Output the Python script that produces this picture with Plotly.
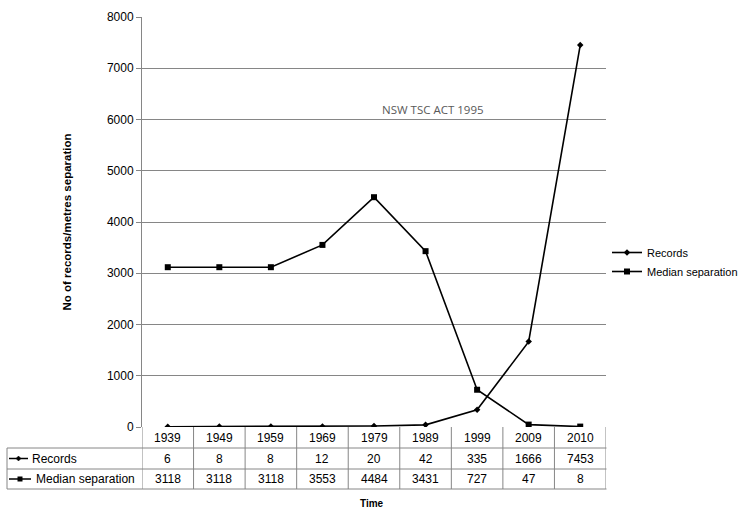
import plotly.graph_objects as go

years = ["1939", "1949", "1959", "1969", "1979", "1989", "1999", "2009", "2010"]
records = [6, 8, 8, 12, 20, 42, 335, 1666, 7453]
median_sep = [3118, 3118, 3118, 3553, 4484, 3431, 727, 47, 8]
y_ticks = [0, 1000, 2000, 3000, 4000, 5000, 6000, 7000, 8000]

W, H = 742, 509
L, R, T, B = 142, 136, 17, 82
PW, PH = W - L - R, H - T - B

def px(x):
    return (x - L) / PW

def py(y):
    return (H - B - y) / PH

GRID = "#868686"
ARIAL = "Liberation Sans, Arial, sans-serif"

fig = go.Figure()
fig.add_trace(go.Scatter(
    x=years, y=records, name="Records", mode="lines+markers",
    line=dict(color="black", width=1.6),
    marker=dict(symbol="diamond", size=5, color="black"),
))
fig.add_trace(go.Scatter(
    x=years, y=median_sep, name="Median separation", mode="lines+markers",
    line=dict(color="black", width=1.6),
    marker=dict(symbol="square", size=6, color="black"),
))

shapes = []
for yy in (448, 469, 489):
    shapes.append(dict(type="line", xref="paper", yref="paper",
                       x0=px(7), x1=px(606.5), y0=py(yy), y1=py(yy),
                       line=dict(color=GRID, width=1)))
for i in range(len(years) + 1):
    shapes.append(dict(type="line", xref="x", yref="paper",
                       x0=i - 0.5, x1=i - 0.5, y0=0, y1=py(489),
                       line=dict(color=GRID, width=1)))
shapes.append(dict(type="line", xref="paper", yref="paper",
                   x0=px(7), x1=px(7), y0=py(448), y1=py(489),
                   line=dict(color=GRID, width=1)))
shapes.append(dict(type="line", xref="paper", yref="paper",
                   x0=px(9), x1=px(28), y0=py(458.5), y1=py(458.5),
                   line=dict(color="black", width=1.5)))
shapes.append(dict(type="path", xref="paper", yref="paper",
                   path="M {a},{b} L {c},{d} L {a},{e} L {f},{d} Z".format(
                       a=px(18.5), b=py(456), c=px(21), d=py(458.5), e=py(461), f=px(16)),
                   fillcolor="black", line=dict(color="black", width=0.5)))
shapes.append(dict(type="line", xref="paper", yref="paper",
                   x0=px(9), x1=px(31), y0=py(479), y1=py(479),
                   line=dict(color="black", width=1.5)))
shapes.append(dict(type="rect", xref="paper", yref="paper",
                   x0=px(17.5), x1=px(22.5), y0=py(476.5), y1=py(481.5),
                   fillcolor="black", line=dict(color="black", width=0)))

def txt(x, y, s, xref="x", xanchor="center", font=None):
    return dict(x=x, y=y, xref=xref, yref="paper", text=s, showarrow=False,
                xanchor=xanchor, yanchor="middle",
                font=font or dict(family=ARIAL, size=12, color="black"))

annotations = []
for i, yr in enumerate(years):
    annotations.append(txt(i, py(437.5), yr))
    annotations.append(txt(i, py(458.5), str(records[i])))
    annotations.append(txt(i, py(479), str(median_sep[i])))
annotations.append(txt(px(30), py(458.5), "Records", xref="paper", xanchor="left"))
annotations.append(txt(px(34), py(479), "Median separation", xref="paper", xanchor="left"))
annotations.append(txt(px(372), py(503), "<b>Time</b>", xref="paper",
                       font=dict(family=ARIAL, size=10, color="black")))
annotations.append(dict(x=px(433), y=6200, xref="paper", yref="y", text="NSW TSC ACT 1995",
                        showarrow=False, xanchor="center", yanchor="middle",
                        font=dict(family="Open Sans, sans-serif", size=11.5, color="#595959")))

fig.update_layout(
    width=W, height=H,
    margin=dict(l=L, r=R, t=T, b=B, pad=0, autoexpand=False),
    paper_bgcolor="white", plot_bgcolor="white",
    showlegend=True,
    legend=dict(xref="container", yref="container", x=607 / W, y=1 - 238 / H,
                xanchor="left", yanchor="top",
                font=dict(family=ARIAL, size=11, color="black"),
                bgcolor="rgba(0,0,0,0)", tracegroupgap=0, itemwidth=30),
    shapes=shapes, annotations=annotations,
)
fig.update_xaxes(type="category", range=[-0.5, len(years) - 0.5], showticklabels=False,
                 showgrid=False, zeroline=False, showline=False, ticks="", automargin=False)
fig.update_yaxes(range=[0, 8000], tickvals=y_ticks, ticktext=[str(v) for v in y_ticks],
                 showgrid=True, gridcolor=GRID, gridwidth=1, zeroline=False,
                 showline=True, linecolor=GRID, linewidth=1,
                 ticks="outside", ticklen=5, tickcolor=GRID, automargin=False,
                 tickfont=dict(family=ARIAL, size=12, color="black"),
                 title=dict(text="<b>No of records/metres separation</b>", standoff=32,
                            font=dict(family=ARIAL, size=11.5, color="black")))

fig.write_html("out.html", config={"displayModeBar": False},
               post_script="document.body.style.margin='0';document.body.style.padding='0';")
